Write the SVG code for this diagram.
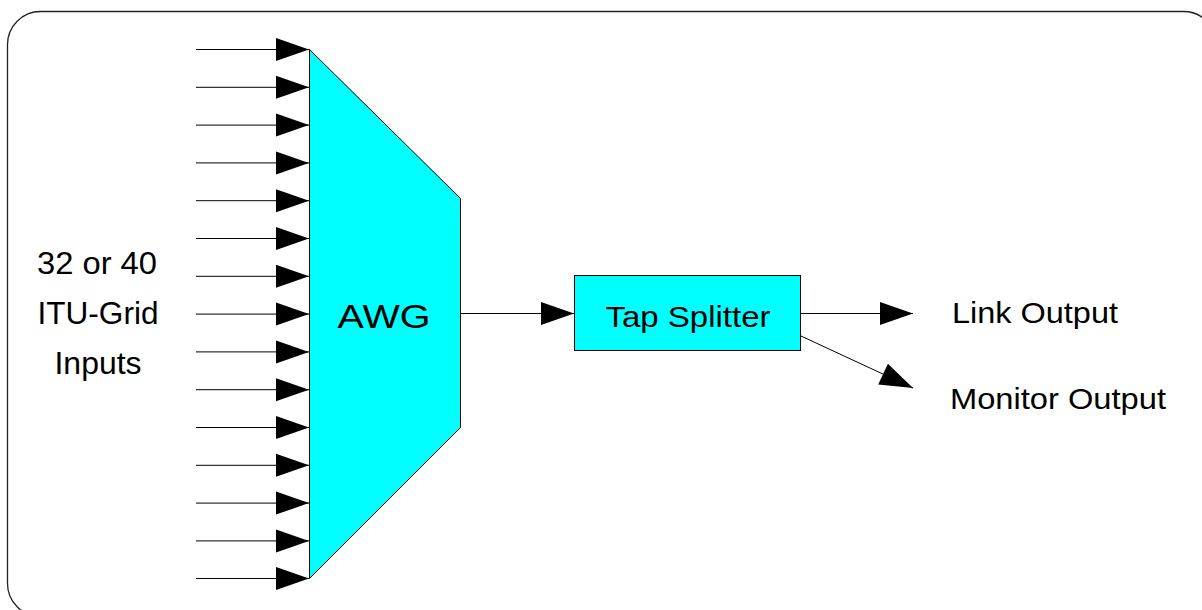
<svg xmlns="http://www.w3.org/2000/svg" width="1202" height="610" viewBox="0 0 1202 610">
  <style>
    .frame { fill: #ffffff; stroke: #222222; stroke-width: 1.3; }
    .block { fill: #00ffff; stroke: #000000; stroke-width: 1; }
    .wire { fill: none; stroke: #000000; stroke-width: 1; marker-end: url(#head); }
    .lbl { font-family: "Liberation Sans", Arial, sans-serif; fill: #000000; }
  </style>
  <defs>
    <marker id="head" markerUnits="userSpaceOnUse" markerWidth="34" markerHeight="23" refX="33" refY="11.5" orient="auto" overflow="visible">
      <path d="M0,0 L33,11.5 L0,23 Z" fill="#000000"/>
    </marker>
  </defs>

  <rect class="frame" x="7.5" y="11.5" width="1209" height="605" rx="33" ry="33"/>

  <g id="awg">
    <polygon class="block" points="309.5,49.5 460.5,198.5 460.5,427.5 309.5,578.5"/>
    <text class="lbl" x="384" y="328" font-size="34" text-anchor="middle" textLength="93" lengthAdjust="spacingAndGlyphs">AWG</text>
  </g>

  <g id="tap-splitter">
    <rect class="block" x="574.5" y="275.5" width="226" height="75"/>
    <text class="lbl" x="688" y="327" font-size="30" text-anchor="middle" textLength="165" lengthAdjust="spacingAndGlyphs">Tap Splitter</text>
  </g>

  <g id="inputs-label">
    <text class="lbl" x="97" y="274" font-size="31" text-anchor="middle" textLength="120" lengthAdjust="spacingAndGlyphs">32 or 40</text>
    <text class="lbl" x="98" y="324" font-size="31" text-anchor="middle" textLength="121" lengthAdjust="spacingAndGlyphs">ITU-Grid</text>
    <text class="lbl" x="98" y="374" font-size="31" text-anchor="middle" textLength="87" lengthAdjust="spacingAndGlyphs">Inputs</text>
  </g>

  <g id="link-output">
    <text class="lbl" x="952" y="323" font-size="29" textLength="166" lengthAdjust="spacingAndGlyphs">Link Output</text>
  </g>

  <g id="monitor-output">
    <text class="lbl" x="950" y="409" font-size="29" textLength="216" lengthAdjust="spacingAndGlyphs">Monitor Output</text>
  </g>

  <g id="connectors">
    <!-- 15 channel inputs into the AWG -->
    <line class="wire" x1="196" y1="49.5" x2="309" y2="49.5"/>
    <line class="wire" x1="196" y1="87.3" x2="309" y2="87.3"/>
    <line class="wire" x1="196" y1="125.1" x2="309" y2="125.1"/>
    <line class="wire" x1="196" y1="162.9" x2="309" y2="162.9"/>
    <line class="wire" x1="196" y1="200.7" x2="309" y2="200.7"/>
    <line class="wire" x1="196" y1="238.5" x2="309" y2="238.5"/>
    <line class="wire" x1="196" y1="276.3" x2="309" y2="276.3"/>
    <line class="wire" x1="196" y1="314.1" x2="309" y2="314.1"/>
    <line class="wire" x1="196" y1="351.9" x2="309" y2="351.9"/>
    <line class="wire" x1="196" y1="389.7" x2="309" y2="389.7"/>
    <line class="wire" x1="196" y1="427.5" x2="309" y2="427.5"/>
    <line class="wire" x1="196" y1="465.3" x2="309" y2="465.3"/>
    <line class="wire" x1="196" y1="503.1" x2="309" y2="503.1"/>
    <line class="wire" x1="196" y1="540.9" x2="309" y2="540.9"/>
    <line class="wire" x1="196" y1="578.5" x2="309" y2="578.5"/>
    <!-- AWG to splitter -->
    <line class="wire" x1="460.5" y1="313.5" x2="574" y2="313.5"/>
    <!-- splitter outputs -->
    <line class="wire" x1="800.5" y1="313.5" x2="913" y2="313.5"/>
    <line class="wire" x1="801" y1="336" x2="913" y2="388"/>
  </g>
</svg>
